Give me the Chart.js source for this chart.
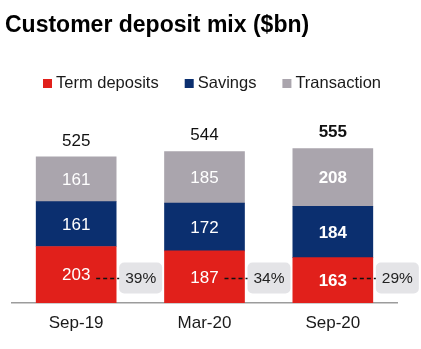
<!DOCTYPE html>
<html>
<head>
<meta charset="utf-8">
<script src="https://cdn.jsdelivr.net/npm/chart.js@4"></script>
<style>
  html, body { margin: 0; padding: 0; background: #fff; }
  #wrap { width: 421px; height: 349px; position: relative; }
</style>
</head>
<body>
<div id="wrap"><canvas id="depositChart" width="421" height="349"></canvas></div>
<script>
// chart data
const periods     = ["Sep-19", "Mar-20", "Sep-20"];
const termValues  = [203, 187, 163];
const savingsVals = [161, 172, 184];
const transValues = [161, 185, 208];
const totals      = [525, 544, 555];
const termShare   = ["39%", "34%", "29%"];

const seriesNames  = ["Term deposits", "Savings", "Transaction"];
const seriesColors = ["#e1201b", "#0b2f6f", "#aaa5ad"];

const FONT = "'Liberation Sans', Arial, sans-serif";
const font = (size, bold) => `${bold ? "bold " : ""}${size}px ${FONT}`;

// the last period is drawn in bold in the reference
const isBold = (i) => i === periods.length - 1;

const headerPlugin = {
  id: "header",
  afterDraw(chart) {
    const ctx = chart.ctx;
    ctx.save();
    ctx.fillStyle = "#000";
    ctx.font = font(23, true);
    ctx.textBaseline = "alphabetic";
    ctx.textAlign = "left";
    ctx.fillText("Customer deposit mix ($bn)", 5, 32);

    // legend row
    ctx.font = font(16.5, false);
    ctx.textBaseline = "middle";
    let x = 43;
    seriesNames.forEach((name, i) => {
      ctx.fillStyle = seriesColors[i];
      ctx.fillRect(x, 79, 9, 9);
      ctx.fillStyle = "#1a1a1a";
      ctx.fillText(name, x + 13, 83);
      x += 13 + ctx.measureText(name).width + 26;
    });
    ctx.restore();
  },
};

const labelPlugin = {
  id: "barLabels",
  afterDatasetsDraw(chart) {
    const ctx = chart.ctx;
    const area = chart.chartArea;
    ctx.save();
    ctx.textAlign = "center";
    ctx.textBaseline = "middle";

    // values inside segments
    chart.data.datasets.forEach((ds, di) => {
      chart.getDatasetMeta(di).data.forEach((bar, i) => {
        ctx.font = font(17, isBold(i));
        ctx.fillStyle = "#fff";
        ctx.fillText(ds.data[i], bar.x, (bar.y + bar.base) / 2 + 1);
      });
    });

    // totals above each stack
    const topMeta = chart.getDatasetMeta(chart.data.datasets.length - 1);
    topMeta.data.forEach((bar, i) => {
      ctx.font = font(17, isBold(i));
      ctx.fillStyle = "#111";
      ctx.fillText(totals[i], bar.x, bar.y - 16);
    });

    // term deposit share callouts
    const termMeta = chart.getDatasetMeta(0);
    const boxW = 43, boxH = 31;
    const cy = area.bottom - 25;
    termMeta.data.forEach((bar, i) => {
      const right = bar.x + bar.width / 2;
      const bx = right + 3;
      ctx.fillStyle = "#e4e4e7";
      ctx.beginPath();
      ctx.roundRect(bx, cy - boxH / 2, boxW, boxH, 5);
      ctx.fill();

      ctx.strokeStyle = "#111";
      ctx.lineWidth = 1.3;
      ctx.setLineDash([4, 3]);
      ctx.beginPath();
      ctx.moveTo(right - 20, cy + 0.5);
      ctx.lineTo(bx, cy + 0.5);
      ctx.stroke();
      ctx.setLineDash([]);

      ctx.font = font(15.5, false);
      ctx.fillStyle = "#222";
      ctx.fillText(termShare[i], bx + boxW / 2, cy + 1);
    });
    ctx.restore();
  },
};

new Chart(document.getElementById("depositChart"), {
  type: "bar",
  data: {
    labels: periods,
    datasets: [
      { label: seriesNames[0], data: termValues,  backgroundColor: seriesColors[0] },
      { label: seriesNames[1], data: savingsVals, backgroundColor: seriesColors[1] },
      { label: seriesNames[2], data: transValues, backgroundColor: seriesColors[2] },
    ],
  },
  options: {
    responsive: false,
    animation: false,
    layout: { padding: { top: 136, left: 12, right: 24, bottom: 0 } },
    datasets: { bar: { barThickness: 80, categoryPercentage: 1, barPercentage: 1 } },
    scales: {
      x: {
        stacked: true,
        grid: { display: false, drawTicks: false },
        border: { display: true, color: "#9c9c9c", width: 1.5 },
        ticks: { font: { family: FONT, size: 17 }, color: "#1a1a1a", padding: 10 },
        afterFit: (scale) => { scale.height = 46; },
      },
      y: {
        stacked: true,
        display: false,
        min: 0,
        max: 600,
      },
    },
    plugins: {
      legend: { display: false },
      title: { display: false },
      tooltip: { enabled: false },
    },
  },
  plugins: [headerPlugin, labelPlugin],
});
</script>
</body>
</html>
